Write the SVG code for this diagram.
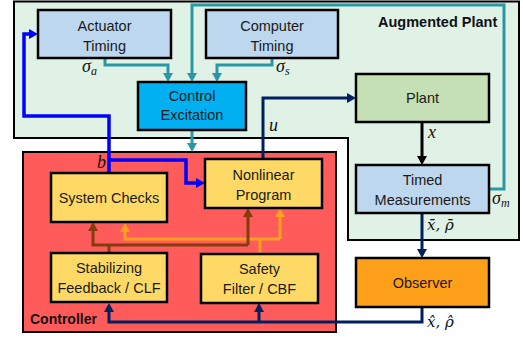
<svg xmlns="http://www.w3.org/2000/svg" width="523" height="339" viewBox="0 0 523 339">
<defs>
<style>
.box{stroke:#000;stroke-width:2.5}
.lb{fill:#bdd7ee}
.yb{fill:#ffd966}
.t{font-family:"Liberation Sans",Arial,sans-serif;font-size:14.5px;fill:#1a1a1a;text-anchor:middle}
.bold{font-family:"Liberation Sans",Arial,sans-serif;font-weight:bold;font-size:14px;fill:#111}
.m{font-family:"Liberation Serif","Times New Roman",serif;font-style:italic;font-size:18px;fill:#111}
.dj{font-family:"DejaVu Serif",serif;font-style:italic;font-size:15px;fill:#111}
.sub{font-size:12px}
.c{fill:none;stroke-linejoin:miter}
.teal{stroke:#2a97a7;stroke-width:3}
.blue{stroke:#0000ff;stroke-width:3.5}
.navy{stroke:#002060;stroke-width:3}
.blk{stroke:#000;stroke-width:3}
.brown{stroke:#843c0c;stroke-width:3}
.orange{stroke:#ffa11c;stroke-width:3}
</style>
<marker id="aTeal" viewBox="0 0 9 10" refX="1" refY="5" markerWidth="9" markerHeight="10" markerUnits="userSpaceOnUse" orient="auto"><path d="M0,0 L9,5 L0,10 z" fill="#2a97a7"/></marker>
<marker id="aBlue" viewBox="0 0 9 10" refX="1" refY="5" markerWidth="9" markerHeight="10" markerUnits="userSpaceOnUse" orient="auto"><path d="M0,0 L9,5 L0,10 z" fill="#0000ff"/></marker>
<marker id="aNavy" viewBox="0 0 9 10" refX="1" refY="5" markerWidth="9" markerHeight="10" markerUnits="userSpaceOnUse" orient="auto"><path d="M0,0 L9,5 L0,10 z" fill="#002060"/></marker>
<marker id="aBlk" viewBox="0 0 9 10" refX="1" refY="5" markerWidth="9" markerHeight="10" markerUnits="userSpaceOnUse" orient="auto"><path d="M0,0 L9,5 L0,10 z" fill="#000"/></marker>
<marker id="aBrown" viewBox="0 0 9 10" refX="1" refY="5" markerWidth="9" markerHeight="10" markerUnits="userSpaceOnUse" orient="auto"><path d="M0,0 L9,5 L0,10 z" fill="#843c0c"/></marker>
<marker id="aOrange" viewBox="0 0 9 10" refX="1" refY="5" markerWidth="9" markerHeight="10" markerUnits="userSpaceOnUse" orient="auto"><path d="M0,0 L9,5 L0,10 z" fill="#ffa11c"/></marker>
</defs>
<rect width="523" height="339" fill="#fff"/>

<g id="augmented-plant">
<path d="M14,1.5 H519 V240 H348 V138 H14 Z" fill="#e0f2e6" stroke="#000" stroke-width="2"/>
<text class="bold" x="378" y="27" style="font-size:14.5px">Augmented Plant</text>
</g>

<g id="controller">
<rect x="23" y="152" width="313" height="180" fill="#ff5b5b" stroke="#000" stroke-width="2"/>
<text class="bold" x="30" y="324">Controller</text>
</g>

<g id="connectors">
<path class="c teal" d="M105,58 V65 H168 V74" marker-end="url(#aTeal)"/>
<path class="c teal" d="M272,58 V65 H217 V74" marker-end="url(#aTeal)"/>
<path class="c teal" d="M489,189 H504 V5 H192 V74" marker-end="url(#aTeal)"/>
<path class="c teal" d="M192,130 V144" marker-end="url(#aTeal)"/>
<path class="c blue" d="M109,173 V116 H24 V34 H30" marker-end="url(#aBlue)"/>
<path class="c blue" d="M109,160 H186 V183 H197" marker-end="url(#aBlue)"/>
<path class="c navy" d="M263,159 V98 H348" marker-end="url(#aNavy)"/>
<path class="c blk" d="M422,122 V157" marker-end="url(#aBlk)"/>
<path class="c navy" d="M422,213 V250" marker-end="url(#aNavy)"/>
<path class="c navy" d="M422,307 V322 H109 V311" marker-end="url(#aNavy)"/>
<path class="c navy" d="M259,322 V311" marker-end="url(#aNavy)"/>
<path class="c orange" d="M260,254 V239"/>
<path class="c orange" d="M280,239 H125 V231" marker-end="url(#aOrange)"/>
<path class="c orange" d="M280,239 V216" marker-end="url(#aOrange)"/>
<path class="c brown" d="M109,253 V245"/>
<path class="c brown" d="M248,245 H93 V230" marker-end="url(#aBrown)"/>
<path class="c brown" d="M248,245 V216" marker-end="url(#aBrown)"/>
<text class="m" x="82" y="72">σ<tspan class="sub" dy="3">a</tspan></text>
<text class="m" x="276" y="72">σ<tspan class="sub" dy="3">s</tspan></text>
<text class="m" x="492" y="204">σ<tspan class="sub" dy="3">m</tspan></text>
<text class="m" x="97" y="168">b</text>
<text class="m" x="269" y="131">u</text>
<text class="m" x="428" y="138">x</text>
<text class="dj" x="427" y="230">x̄, ρ̄</text>
<text class="dj" x="427" y="327">x̂, ρ̂</text>
</g>

<g id="actuator-timing">
<rect class="box lb" x="38" y="10" width="133" height="48"/>
<text class="t" x="104.5" y="31">Actuator</text>
<text class="t" x="104.5" y="51">Timing</text>
</g>
<g id="computer-timing">
<rect class="box lb" x="206" y="10" width="132" height="48"/>
<text class="t" x="272" y="31">Computer</text>
<text class="t" x="272" y="51">Timing</text>
</g>
<g id="control-excitation">
<rect class="box" x="138" y="82" width="108" height="48" fill="#00b0f0"/>
<text class="t" x="192" y="101">Control</text>
<text class="t" x="192" y="120">Excitation</text>
</g>
<g id="plant">
<rect class="box" x="356" y="74" width="133" height="48" fill="#c5e0b4"/>
<text class="t" x="422.5" y="103">Plant</text>
</g>
<g id="timed-measurements">
<rect class="box lb" x="356" y="165" width="133" height="48"/>
<text class="t" x="422.5" y="185">Timed</text>
<text class="t" x="422.5" y="205">Measurements</text>
</g>
<g id="observer">
<rect class="box" x="356" y="258" width="133" height="49" fill="#ffa01a"/>
<text class="t" x="422.5" y="288">Observer</text>
</g>
<g id="system-checks">
<rect class="box yb" x="51" y="173" width="116" height="49"/>
<text class="t" x="109" y="203">System Checks</text>
</g>
<g id="nonlinear-program">
<rect class="box yb" x="205" y="159" width="117" height="49"/>
<text class="t" x="263.5" y="180">Nonlinear</text>
<text class="t" x="263.5" y="200">Program</text>
</g>
<g id="stabilizing-feedback">
<rect class="box yb" x="51" y="253" width="116" height="49"/>
<text class="t" x="109" y="273">Stabilizing</text>
<text class="t" x="109" y="293">Feedback / CLF</text>
</g>
<g id="safety-filter">
<rect class="box yb" x="201" y="254" width="117" height="49"/>
<text class="t" x="259.5" y="274">Safety</text>
<text class="t" x="259.5" y="294">Filter / CBF</text>
</g>
</svg>
